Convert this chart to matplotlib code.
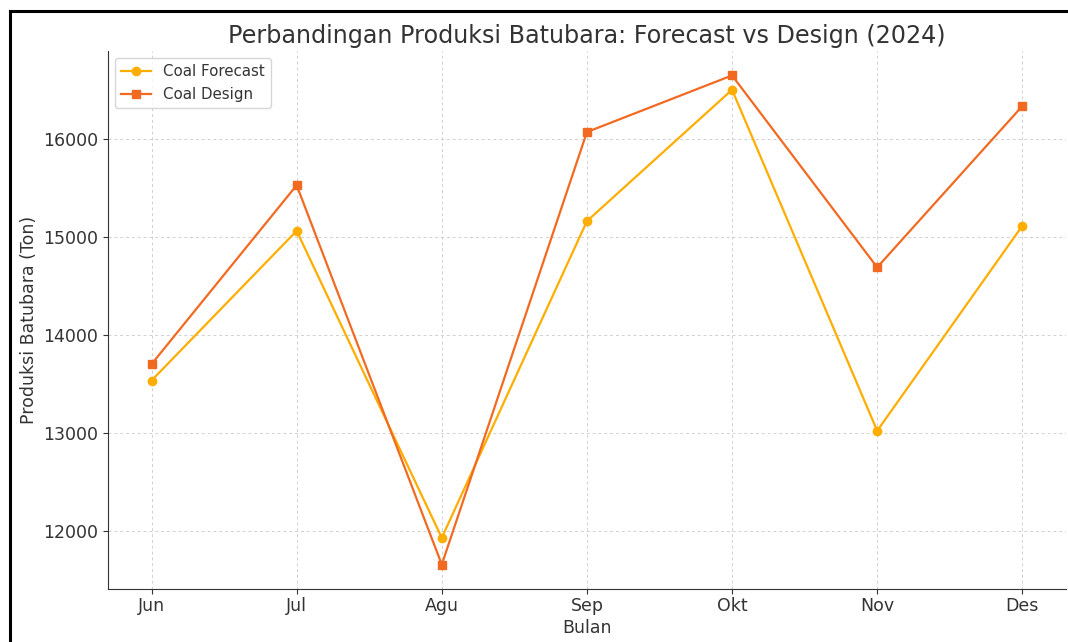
import matplotlib
matplotlib.use('Agg')
import matplotlib.pyplot as plt
from matplotlib.lines import Line2D

# data
bulan = ['Jun', 'Jul', 'Agu', 'Sep', 'Okt', 'Nov', 'Des']
coal_forecast = [13534, 15060, 11931, 15159, 16498, 13022, 15111]
coal_design = [13701, 15525, 11659, 16067, 16644, 14688, 16332]

TXT = '#333333'
plt.rcParams['text.color'] = TXT
plt.rcParams['axes.labelcolor'] = TXT
plt.rcParams['xtick.color'] = TXT
plt.rcParams['ytick.color'] = TXT

fig = plt.figure(figsize=(10.68, 6.42), dpi=100)
ax = fig.add_axes([0.1011, 0.0826, 0.8969, 0.8380])

x = range(len(bulan))
ax.plot(x, coal_forecast, marker='o', color='#FFAD00', lw=1.6, ms=6,
        label='Coal Forecast')
ax.plot(x, coal_design, marker='s', color='#F26A21', lw=1.6, ms=5.5,
        label='Coal Design')

ax.set_xticks(list(x))
ax.set_xticklabels(bulan)
ax.tick_params(labelsize=12.5)
ax.tick_params(axis='x', pad=2)
ax.set_xlabel('Bulan', fontsize=12.5, labelpad=3)
ax.set_ylabel('Produksi Batubara (Ton)', fontsize=12.5)
ax.set_title('Perbandingan Produksi Batubara: Forecast vs Design (2024)',
             fontsize=17.2, color=TXT, pad=6)
ax.grid(True, ls=(0, (3, 3)), color='#d0d0d0', lw=0.7)
ax.spines['top'].set_visible(False)
ax.spines['right'].set_visible(False)
for s in ('left', 'bottom'):
    ax.spines[s].set_color('#333333')
ax.legend(loc='upper left', fontsize=10.8)

# frame of the cropped screenshot (top and left edges only)
fig.add_artist(Line2D([10 / 1068, 10 / 1068], [0, 1 - 11 / 642],
                      color='black', lw=2.2, transform=fig.transFigure))
fig.add_artist(Line2D([10 / 1068, 1], [1 - 11 / 642, 1 - 11 / 642],
                      color='black', lw=2.2, transform=fig.transFigure))

fig.savefig('out.png', dpi=100, facecolor='white')
